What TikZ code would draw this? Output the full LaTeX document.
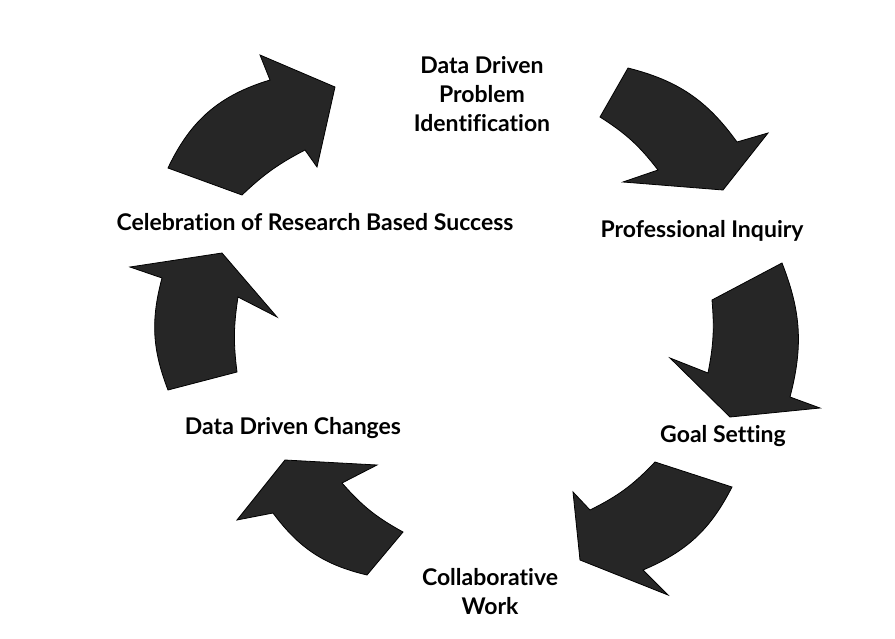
\documentclass[tikz,border=0pt]{standalone}
\usepackage{fontspec}
\setmainfont[Ligatures=NoCommon]{Lato}
\usepackage{tikz}
\usetikzlibrary{positioning, calc}

\tikzset{
  cyclearrow/.style={fill=black!85, draw=black, line width=0.8pt, line join=miter},
  steplabel/.style={font=\fontsize{23}{29}\selectfont\bfseries, align=center, inner sep=0pt}
}

\begin{document}
\begin{tikzpicture}[x=1pt, y=-1pt]
        \useasboundingbox (0,0) rectangle (895,638);

        % 1. Labels of the cycle
        \node[steplabel] (problem) at (482, 94) {Data Driven\\Problem\\Identification};
        \node[steplabel] (inquiry) at (702, 231) {Professional Inquiry};
        \node[steplabel] (goal) at (723, 436) {Goal Setting};
        \node[steplabel] (collab) at (490, 592) {Collaborative\\Work};
        \node[steplabel] (changes) at (293, 428) {Data Driven Changes};
        \node[steplabel] (success) at (315, 222) {Celebration of Research Based Success};

        % 2. Curved arrows, going round clockwise
        % top left, up to the problem identification
        \fill[cyclearrow] (168,168) -- (242,195) to[bend left=8] (305,150)
                -- (317,167) -- (335,87) -- (260,55) -- (270,80)
                to[bend right=24] cycle;
        % top right, down to professional inquiry
        \fill[cyclearrow] (628,68) -- (600,117) to[bend left=10] (658,170)
                -- (623,182) -- (723,190) -- (768,133) -- (737,142)
                to[bend right=20] cycle;
        % right, down to goal setting
        \fill[cyclearrow] (782,263) -- (712,300) to[bend left=8] (708,373)
                -- (670,358) -- (730,417) -- (820,408) -- (790,397)
                to[bend right=18] cycle;
        % bottom right, down to collaborative work
        \fill[cyclearrow] (655,462) -- (732,487) to[bend left=20] (643,570)
                -- (668,595) -- (580,560) -- (573,492) -- (590,510)
                to[bend right=10] cycle;
        % bottom left, up to data driven changes
        \fill[cyclearrow] (403,532) -- (367,575) to[bend left=20] (273,513)
                -- (237,520) -- (285,460) -- (377,465) -- (342,483)
                to[bend right=10] cycle;
        % left, up to the celebration
        \fill[cyclearrow] (237,372) -- (168,390) to[bend left=18] (162,278)
                -- (130,267) -- (222,253) -- (277,317) -- (238,297)
                to[bend right=8] cycle;

    \end{tikzpicture}
\end{document}
